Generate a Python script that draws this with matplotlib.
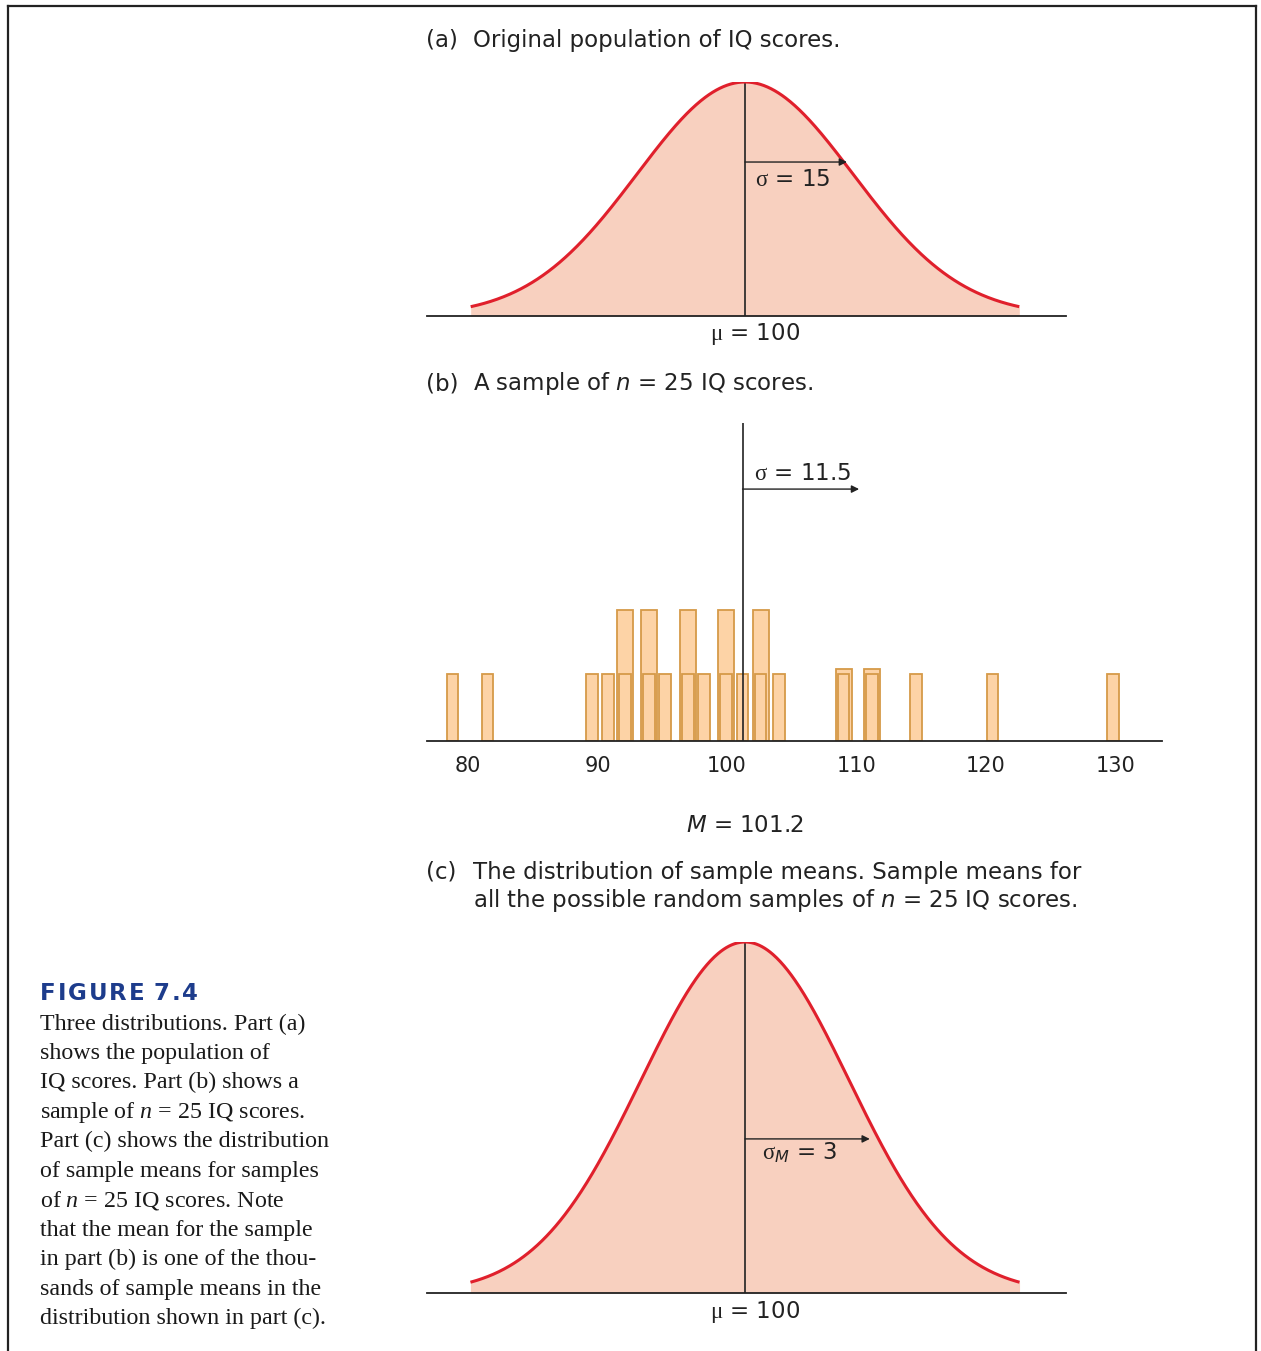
import numpy as np
import matplotlib
matplotlib.use('Agg')
import matplotlib.pyplot as plt
from matplotlib.lines import Line2D

plt.rcParams['mathtext.fontset'] = 'custom'
plt.rcParams['mathtext.rm'] = 'Liberation Serif'
plt.rcParams['mathtext.it'] = 'DejaVu Sans:italic'
plt.rcParams['mathtext.tt'] = 'Liberation Serif:italic'
plt.rcParams['font.family'] = ['DejaVu Sans']

# ---------------- data ----------------
pop_mean = 100
pop_sd = 15
sample_n = 25
sample_mean = 101.2
sample_sd = 11.5
se_mean = 3

# individual IQ scores of the sample (part b)
sample_scores = [78.8, 81.5, 89.6, 90.8, 92.1, 92.1, 94.0, 94.0, 95.2, 97.0, 97.0,
                 98.2, 99.9, 99.9, 101.2, 102.6, 102.6, 104.0, 109.0, 109.0,
                 111.2, 111.2, 114.6, 120.5, 129.8]
# heights of the stacked (back) bars as drawn in the picture
back_bar_x = [92.1, 94.0, 97.0, 99.9, 102.6, 109.0, 111.2]
back_bar_h = [1.95, 1.95, 1.95, 1.95, 1.95, 1.08, 1.08]
sample_ticks = [80, 90, 100, 110, 120, 130]

caption_title = "FIGURE 7.4"
caption_lines = [
    "Three distributions. Part (a)",
    "shows the population of",
    "IQ scores. Part (b) shows a",
    r"sample of $\mathtt{n}$ = 25 IQ scores.",
    "Part (c) shows the distribution",
    "of sample means for samples",
    r"of $\mathtt{n}$ = 25 IQ scores. Note",
    "that the mean for the sample",
    "in part (b) is one of the thou-",
    "sands of sample means in the",
    "distribution shown in part (c).",
]

# ---------------- style ----------------
FILL = '#F8D0BF'
RED = '#E0202C'
BAR_FILL = '#FDD3A6'
BAR_EDGE = '#D69A48'
INK = '#222222'
BLUE = '#1D3C8C'
FS = 16.5
TICK_FS = 15

W, H = 1261, 1351
fig = plt.figure(figsize=(W / 100, H / 100), dpi=100)
SIG = r'$\mathrm{\sigma}$'
MU = r'$\mathrm{\mu}$'


def ax_px(x0, x1, ytop, ybot):
    a = fig.add_axes([x0 / W, 1 - ybot / H, (x1 - x0) / W, (ybot - ytop) / H])
    for s in a.spines.values():
        s.set_visible(False)
    a.set_xticks([])
    a.set_yticks([])
    a.patch.set_alpha(0)
    return a


def ftext(x, y, s, **kw):
    kw.setdefault('va', 'center')
    kw.setdefault('fontsize', FS)
    kw.setdefault('color', INK)
    return fig.text(x / W, 1 - y / H, s, **kw)


def normal_panel(ax, mu, sd, px_per_sd, x0px, x1px, cx, tail, arrow_y, arrow_len,
                 lab, lab_xy, mu_xy):
    left = mu - (cx - x0px) / px_per_sd * sd
    right = mu + (x1px - cx) / px_per_sd * sd
    ax.set_xlim(left, right)
    ax.set_ylim(0, 1)
    x = np.linspace(mu - tail * sd, mu + tail * sd, 600)
    y = np.exp(-0.5 * ((x - mu) / sd) ** 2)
    ax.fill_between(x, 0, y, color=FILL, lw=0, zorder=1)
    ax.plot(x, y, color=RED, lw=2.2, zorder=3, solid_capstyle='butt')
    ax.plot([left, right], [0, 0], color=INK, lw=1.3, zorder=4, clip_on=False)
    ax.plot([mu, mu], [0, 1], color=INK, lw=1.2, zorder=2)
    ax.annotate('', xy=(mu + arrow_len, arrow_y), xytext=(mu, arrow_y),
                arrowprops=dict(arrowstyle='-|>', color=INK, lw=1.0,
                                mutation_scale=11, shrinkA=0, shrinkB=0), zorder=5)
    ax.text(lab_xy[0], lab_xy[1], lab, fontsize=FS, color=INK, va='center', ha='left')
    ax.text(mu_xy[0], mu_xy[1], MU + ' = %d' % mu, fontsize=FS, color=INK,
            va='center', ha='center', clip_on=False)


# ---------------- panel (a) ----------------
axa = ax_px(427, 1066, 82, 316)
normal_panel(axa, pop_mean, pop_sd, 108, 427, 1066, 745, 2.54,
             arrow_y=0.658, arrow_len=0.944 * pop_sd,
             lab=SIG + ' = %d' % pop_sd,
             lab_xy=(pop_mean + 1.4, 0.585), mu_xy=(pop_mean + 1.4, -0.077))

# ---------------- panel (c) ----------------
axc = ax_px(427, 1066, 942, 1293)
normal_panel(axc, pop_mean, se_mean, 104, 427, 1066, 745, 2.64,
             arrow_y=0.439, arrow_len=1.2 * se_mean,
             lab=r'$\mathrm{\sigma}_M$ = %d' % se_mean,
             lab_xy=(pop_mean + 0.5, 0.40), mu_xy=(pop_mean + 0.29, -0.054))

# ---------------- panel (b) ----------------
axb = fig.add_axes([427 / W, 1 - 741 / H, (1162 - 427) / W, (741 - 423) / H])
axb.patch.set_alpha(0)
for k, s in axb.spines.items():
    s.set_visible(k == 'bottom')
axb.spines['bottom'].set_color(INK)
axb.spines['bottom'].set_linewidth(1.3)
px_unit = 12.95
axb.set_xlim(100 - (727 - 427) / px_unit, 100 + (1162 - 727) / px_unit)
axb.set_ylim(0, (741 - 423) / 67)
axb.set_yticks([])
axb.set_xticks(sample_ticks)
axb.set_xticklabels([str(t) for t in sample_ticks], fontsize=TICK_FS, color=INK)
axb.tick_params(axis='x', length=0, pad=11)

vals, counts = np.unique(np.array(sample_scores), return_counts=True)
axb.bar(back_bar_x, back_bar_h, width=1.24, color=BAR_FILL, edgecolor=BAR_EDGE,
        lw=1.3, zorder=1)
axb.bar(vals, np.ones_like(vals), width=0.9, color=BAR_FILL, edgecolor=BAR_EDGE,
        lw=1.3, zorder=2)
axb.axvline(sample_mean, color=INK, lw=1.2, zorder=3)
axb.annotate('', xy=(sample_mean + 9.0, 3.76), xytext=(sample_mean, 3.76),
             arrowprops=dict(arrowstyle='-|>', color=INK, lw=1.0,
                             mutation_scale=11, shrinkA=0, shrinkB=0), zorder=5)
axb.text(sample_mean + 0.9, 4.0, SIG + ' = %.1f' % sample_sd, fontsize=FS,
         color=INK, va='center', ha='left')

# ---------------- titles ----------------
ftext(426, 40, '(a)')
ftext(473, 40, 'Original population of IQ scores.')
ftext(426, 384, '(b)')
ftext(473, 384, 'A sample of $n$ = %d IQ scores.' % sample_n)
ftext(745, 826, '$M$ = %.1f' % sample_mean, ha='center')
ftext(426, 872, '(c)')
ftext(473, 872, 'The distribution of sample means. Sample means for')
ftext(473, 900, 'all the possible random samples of $n$ = %d IQ scores.' % sample_n)

# ---------------- caption ----------------
renderer = fig.canvas.get_renderer()
xpos = 40.0
for ch in caption_title:
    t = ftext(xpos, 994, ch, color=BLUE, fontweight='bold', fontsize=16.5)
    w = t.get_window_extent(renderer).width if ch != ' ' else 5.5
    xpos += w + 1.9
for i, line in enumerate(caption_lines):
    ftext(40, 1024 + i * 29.45, line, family='Liberation Serif', fontsize=17.3,
          color='#1a1a1a')

# ---------------- frame ----------------
fr = dict(color=INK, lw=1.6, transform=fig.transFigure)
fig.add_artist(Line2D([8 / W, 8 / W], [0, 1 - 6 / H], **fr))
fig.add_artist(Line2D([1256 / W, 1256 / W], [0, 1 - 6 / H], **fr))
fig.add_artist(Line2D([8 / W, 1256 / W], [1 - 6 / H, 1 - 6 / H], **fr))

fig.savefig('out.png', dpi=100)
